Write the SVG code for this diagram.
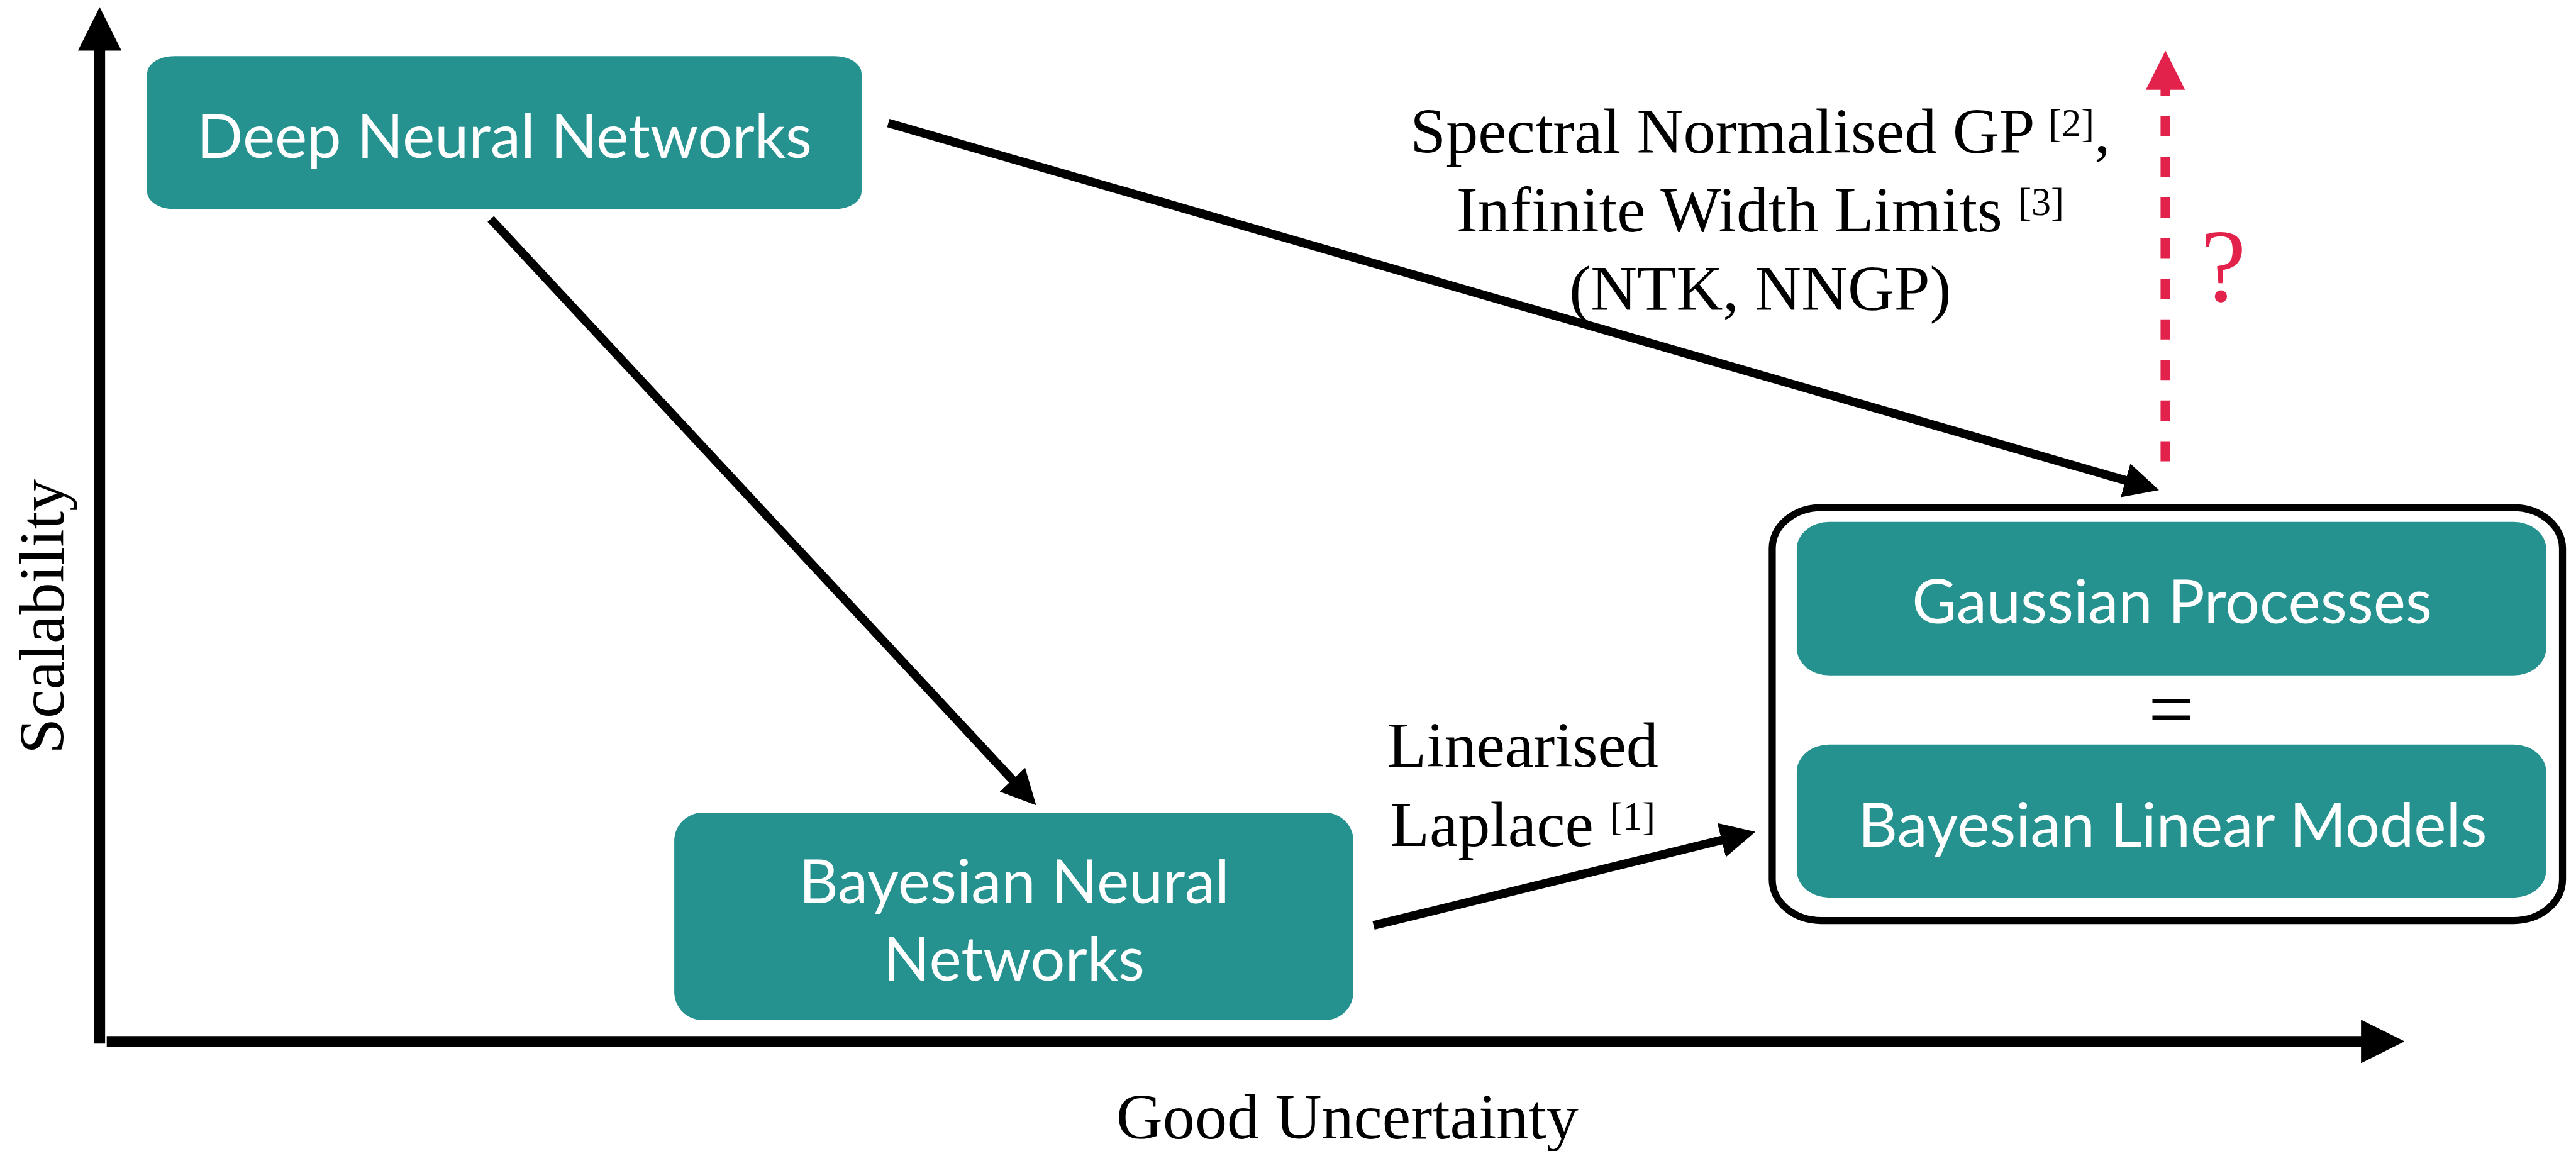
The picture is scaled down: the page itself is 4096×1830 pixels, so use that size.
<svg xmlns="http://www.w3.org/2000/svg" width="4096" height="1830" viewBox="0 0 4096 1830">
<style>
.node{fill:#25928F}
.nt{fill:#FFFFFF;font-family:Lato,"Open Sans",sans-serif;font-size:112px;text-anchor:middle}
.lab{fill:#000;font-family:"Liberation Serif","Times New Roman",serif;font-size:118px;text-anchor:middle}
.sup{font-size:72px}
.conn{stroke:#000;stroke-width:16;fill:none}
.axis{stroke:#000;stroke-width:20;fill:none}
.red{stroke:#E2224A;stroke-width:18;fill:none;stroke-dasharray:37 37.6}
</style>
<defs>
<marker id="ah" viewBox="0 -2 4 4" refX="0.05" refY="0" markerWidth="4" markerHeight="4" orient="auto" markerUnits="strokeWidth"><path d="M0,-2 L4,0 L0,2 Z" fill="#000"/></marker>
<marker id="ahr" viewBox="0 -2 4 4" refX="0.05" refY="0" markerWidth="4" markerHeight="4" orient="auto" markerUnits="strokeWidth"><path d="M0,-2 L4,0 L0,2 Z" fill="#E2224A"/></marker>
</defs>
<rect width="4096" height="1830" fill="#fff"/>
<g transform="scale(0.866)">
<g id="axes">
<line class="axis" x1="183" y1="1916" x2="183" y2="92" marker-end="url(#ah)"/>
<line class="axis" x1="196" y1="1912" x2="4336" y2="1912" marker-end="url(#ah)"/>
<text class="lab" x="2474" y="2090">Good Uncertainty</text>
<text class="lab" transform="translate(117,1132) rotate(-90)" x="0" y="0">Scalability</text>
</g>
<g id="dnn">
<rect class="node" x="270" y="103" width="1312" height="281" rx="50" ry="32"/>
<text class="nt" x="926" y="290">Deep Neural Networks</text>
</g>
<g id="bnn">
<rect class="node" x="1238" y="1492" width="1247" height="381" rx="52" ry="52"/>
<text class="nt" x="1862" y="1658">Bayesian Neural</text>
<text class="nt" x="1862" y="1800">Networks</text>
</g>
<g id="group">
<rect x="3254" y="932" width="1451" height="758" rx="90" ry="75" fill="none" stroke="#000" stroke-width="13"/>
</g>
<g id="gp">
<rect class="node" x="3299" y="958" width="1376" height="282" rx="60" ry="50"/>
<text class="nt" x="3988" y="1144">Gaussian Processes</text>
</g>
<text id="eq" x="3987" y="1352" font-family="'Liberation Serif',serif" font-size="150" text-anchor="middle" fill="#000">=</text>
<g id="blm">
<rect class="node" x="3299" y="1367" width="1376" height="281" rx="60" ry="50"/>
<text class="nt" x="3989" y="1554">Bayesian Linear Models</text>
</g>
<g id="connectors">
<line class="conn" x1="1631" y1="226" x2="3903.5" y2="882.2" marker-end="url(#ah)"/>
<line class="conn" x1="901" y1="402" x2="1859.4" y2="1432.1" marker-end="url(#ah)"/>
<line class="conn" x1="2522" y1="1699" x2="3161.8" y2="1542.2" marker-end="url(#ah)"/>
<line class="red" x1="3976" y1="847" x2="3976" y2="164" marker-end="url(#ahr)"/>
</g>
<g id="labels">
<text class="lab" x="3232" y="281">Spectral Normalised GP <tspan class="sup" dy="-30">[2]</tspan><tspan dy="30">,</tspan></text>
<text class="lab" x="3232" y="425">Infinite Width Limits <tspan class="sup" dy="-30">[3]</tspan></text>
<text class="lab" x="3232" y="569">(NTK, NNGP)</text>
<text class="lab" x="2796" y="1408">Linearised</text>
<text class="lab" x="2796" y="1553">Laplace <tspan class="sup" dy="-30">[1]</tspan></text>
<text x="4082" y="553" font-family="'Liberation Serif',serif" font-size="190" text-anchor="middle" fill="#E2224A">?</text>
</g>
</g>
</svg>
